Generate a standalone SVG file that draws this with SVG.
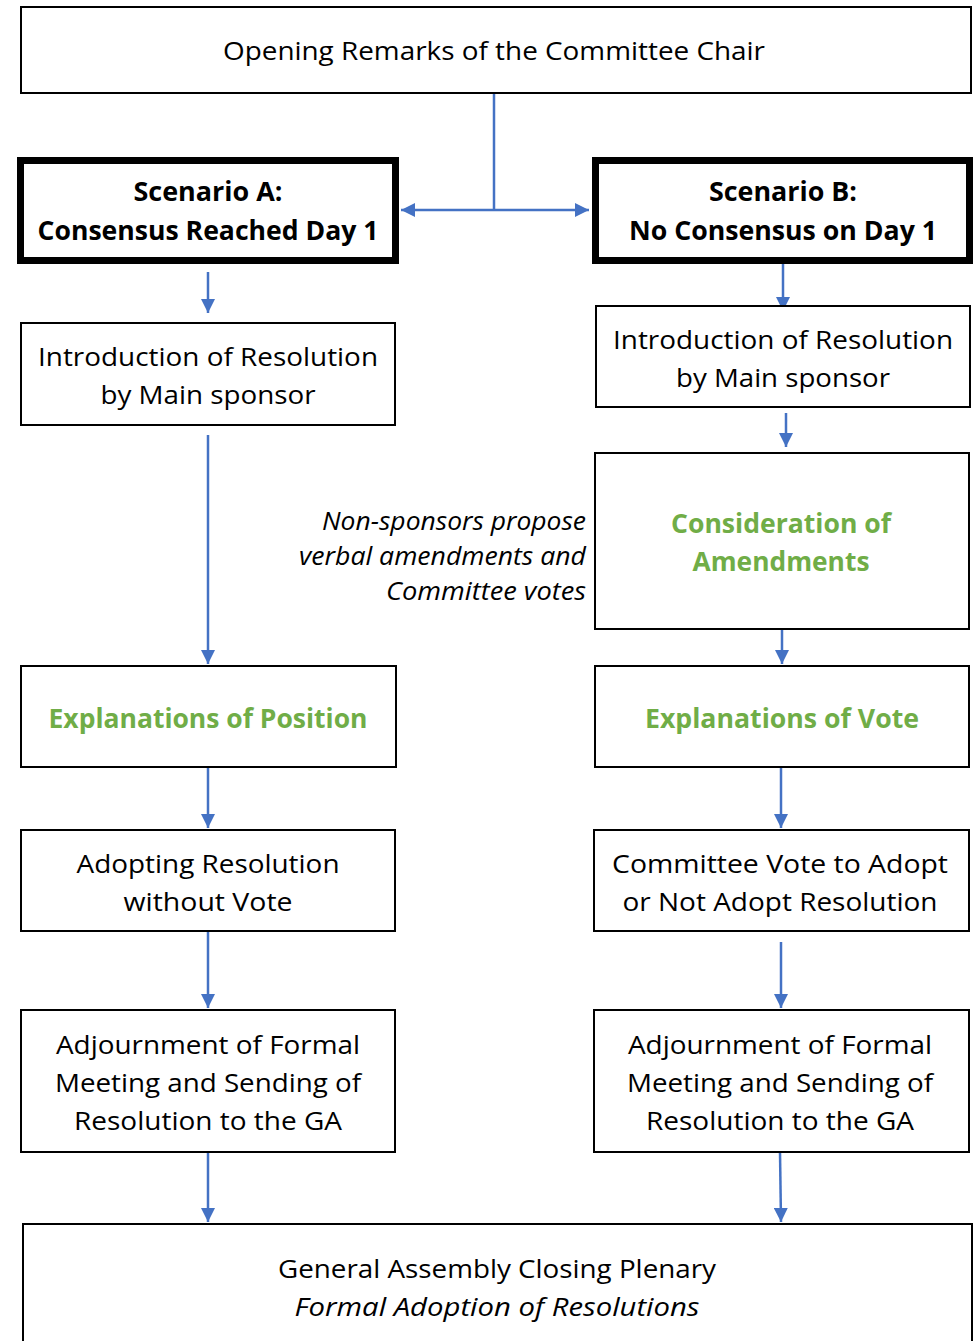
<svg xmlns="http://www.w3.org/2000/svg" width="977" height="1341" viewBox="0 0 977 1341">
<defs>
<marker id="ah" viewBox="0 0 14 14" refX="14" refY="7" markerWidth="14" markerHeight="14" markerUnits="userSpaceOnUse" orient="auto-start-reverse">
<path d="M0,0 L14,7 L0,14 Z" fill="#4472C4"/>
</marker>
<style>
.box{fill:#fff;stroke:#000;stroke-width:2}
.thick{fill:#fff;stroke:#000;stroke-width:7}
.t{font-family:"Open Sans","Liberation Sans",sans-serif;font-size:26px;fill:#000;text-anchor:middle}
.b{font-weight:bold}
.g{fill:#70AD47;font-weight:bold}
.i{font-style:italic}
.r{text-anchor:end}
.c{fill:none;stroke:#4472C4;stroke-width:2.5}
</style>
</defs>
<rect width="977" height="1341" fill="#fff"/>
<g id="connectors">
<path class="c" d="M494,93 V210"/>
<path class="c" d="M494,210 H401" marker-end="url(#ah)"/>
<path class="c" d="M494,210 H589" marker-end="url(#ah)"/>
<path class="c" d="M208,272 V313" marker-end="url(#ah)"/>
<path class="c" d="M783,264 V311" marker-end="url(#ah)"/>
<path class="c" d="M786,413 V447" marker-end="url(#ah)"/>
<path class="c" d="M208,435 V664" marker-end="url(#ah)"/>
<path class="c" d="M782,629 V664" marker-end="url(#ah)"/>
<path class="c" d="M208,768 V828" marker-end="url(#ah)"/>
<path class="c" d="M781,768 V828" marker-end="url(#ah)"/>
<path class="c" d="M208,931 V1008" marker-end="url(#ah)"/>
<path class="c" d="M781,942 V1008" marker-end="url(#ah)"/>
<path class="c" d="M208,1152 V1222" marker-end="url(#ah)"/>
<path class="c" d="M780,1152 L781,1222" marker-end="url(#ah)"/>
</g>
<g id="opening">
<rect class="box" x="21" y="7" width="950" height="86"/>
<text class="t" x="494" y="60" textLength="542" lengthAdjust="spacingAndGlyphs">Opening Remarks of the Committee Chair</text>
</g>
<g id="scenarioA">
<rect class="thick" x="20.5" y="160.5" width="375" height="100"/>
<text class="t b" x="208" y="201" textLength="149" lengthAdjust="spacingAndGlyphs">Scenario A:</text>
<text class="t b" x="208" y="240" textLength="341" lengthAdjust="spacingAndGlyphs">Consensus Reached Day 1</text>
</g>
<g id="scenarioB">
<rect class="thick" x="595.5" y="160.5" width="374" height="100"/>
<text class="t b" x="783" y="201" textLength="148" lengthAdjust="spacingAndGlyphs">Scenario B:</text>
<text class="t b" x="783" y="240" textLength="308" lengthAdjust="spacingAndGlyphs">No Consensus on Day 1</text>
</g>
<g id="introA">
<rect class="box" x="21" y="323" width="374" height="102"/>
<text class="t" x="208" y="366" textLength="340" lengthAdjust="spacingAndGlyphs">Introduction of Resolution</text>
<text class="t" x="208" y="404" textLength="215" lengthAdjust="spacingAndGlyphs">by Main sponsor</text>
</g>
<g id="introB">
<rect class="box" x="596" y="306" width="374" height="101"/>
<text class="t" x="783" y="349" textLength="340" lengthAdjust="spacingAndGlyphs">Introduction of Resolution</text>
<text class="t" x="783" y="387" textLength="214" lengthAdjust="spacingAndGlyphs">by Main sponsor</text>
</g>
<g id="amendNote">
<text class="t i r" x="586" y="530" textLength="264" lengthAdjust="spacingAndGlyphs">Non-sponsors propose</text>
<text class="t i r" x="586" y="565" textLength="287" lengthAdjust="spacingAndGlyphs">verbal amendments and</text>
<text class="t i r" x="586" y="600" textLength="200" lengthAdjust="spacingAndGlyphs">Committee votes</text>
</g>
<g id="consideration">
<rect class="box" x="595" y="453" width="374" height="176"/>
<text class="t g" x="781" y="533" textLength="220" lengthAdjust="spacingAndGlyphs">Consideration of</text>
<text class="t g" x="781" y="571" textLength="177" lengthAdjust="spacingAndGlyphs">Amendments</text>
</g>
<g id="eopA">
<rect class="box" x="21" y="666" width="375" height="101"/>
<text class="t g" x="208" y="728" textLength="319" lengthAdjust="spacingAndGlyphs">Explanations of Position</text>
</g>
<g id="eovB">
<rect class="box" x="595" y="666" width="374" height="101"/>
<text class="t g" x="782" y="728" textLength="274" lengthAdjust="spacingAndGlyphs">Explanations of Vote</text>
</g>
<g id="adoptA">
<rect class="box" x="21" y="830" width="374" height="101"/>
<text class="t" x="208" y="873" textLength="263" lengthAdjust="spacingAndGlyphs">Adopting Resolution</text>
<text class="t" x="208" y="911" textLength="169" lengthAdjust="spacingAndGlyphs">without Vote</text>
</g>
<g id="voteB">
<rect class="box" x="594" y="830" width="375" height="101"/>
<text class="t" x="780" y="873" textLength="336" lengthAdjust="spacingAndGlyphs">Committee Vote to Adopt</text>
<text class="t" x="780" y="911" textLength="315" lengthAdjust="spacingAndGlyphs">or Not Adopt Resolution</text>
</g>
<g id="adjournA">
<rect class="box" x="21" y="1010" width="374" height="142"/>
<text class="t" x="208" y="1054" textLength="304" lengthAdjust="spacingAndGlyphs">Adjournment of Formal</text>
<text class="t" x="208" y="1092" textLength="306" lengthAdjust="spacingAndGlyphs">Meeting and Sending of</text>
<text class="t" x="208" y="1130" textLength="268" lengthAdjust="spacingAndGlyphs">Resolution to the GA</text>
</g>
<g id="adjournB">
<rect class="box" x="594" y="1010" width="375" height="142"/>
<text class="t" x="780" y="1054" textLength="304" lengthAdjust="spacingAndGlyphs">Adjournment of Formal</text>
<text class="t" x="780" y="1092" textLength="306" lengthAdjust="spacingAndGlyphs">Meeting and Sending of</text>
<text class="t" x="780" y="1130" textLength="268" lengthAdjust="spacingAndGlyphs">Resolution to the GA</text>
</g>
<g id="plenary">
<rect class="box" x="23" y="1224" width="949" height="140"/>
<text class="t" x="497" y="1278" textLength="438" lengthAdjust="spacingAndGlyphs">General Assembly Closing Plenary</text>
<text class="t i" x="497" y="1316" textLength="405" lengthAdjust="spacingAndGlyphs">Formal Adoption of Resolutions</text>
</g>
</svg>
